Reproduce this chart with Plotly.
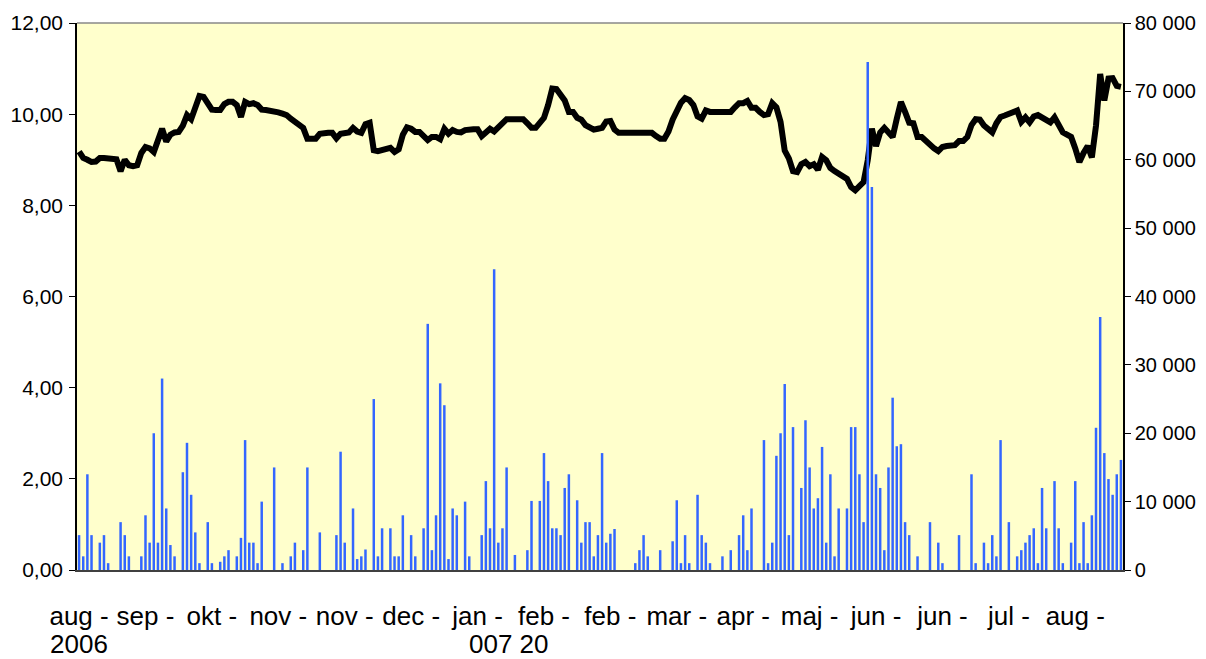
import plotly.graph_objects as go

# ---- data -------------------------------------------------------------
price = [
    9.18, 9.04, 9.00, 8.95, 8.96, 9.04, 9.04, 9.02, 9.01, 9.01,
    8.75, 9.00, 8.88, 8.86, 8.88, 9.15, 9.28, 9.25, 9.17, 9.40,
    9.68, 9.40, 9.55, 9.60, 9.61, 9.75, 9.98, 9.89, 10.15, 10.40,
    10.38, 10.25, 10.10, 10.09, 10.09, 10.22, 10.27, 10.27, 10.20, 9.94,
    10.27, 10.22, 10.24, 10.20, 10.10, 10.09, 10.08, 10.06, 10.04, 10.01,
    9.98, 9.90, 9.83, 9.79, 9.70, 9.46, 9.46, 9.46, 9.57, 9.59,
    9.59, 9.59, 9.47, 9.57, 9.59, 9.60, 9.70, 9.62, 9.59, 9.78,
    9.81, 9.21, 9.19, 9.22, 9.26, 9.26, 9.17, 9.23, 9.55, 9.71,
    9.68, 9.61, 9.61, 9.50, 9.43, 9.50, 9.50, 9.45, 9.68, 9.57,
    9.65, 9.61, 9.60, 9.65, 9.67, 9.67, 9.67, 9.52, 9.60, 9.68,
    9.62, 9.72, 9.82, 9.89, 9.89, 9.89, 9.89, 9.89, 9.80, 9.70,
    9.70, 9.80, 9.92, 10.20, 10.56, 10.55, 10.43, 10.30, 10.05, 10.05,
    9.92, 9.88, 9.76, 9.72, 9.66, 9.68, 9.70, 9.84, 9.85, 9.66,
    9.59, 9.59, 9.59, 9.59, 9.59, 9.59, 9.59, 9.59, 9.59, 9.52,
    9.46, 9.46, 9.62, 9.88, 10.06, 10.25, 10.35, 10.31, 10.20, 9.95,
    9.90, 10.08, 10.05, 10.05, 10.05, 10.05, 10.05, 10.05, 10.15, 10.24,
    10.24, 10.29, 10.14, 10.14, 10.05, 9.98, 10.00, 10.24, 10.15, 9.83,
    9.20, 9.03, 8.75, 8.73, 8.90, 8.95, 8.86, 8.90, 8.78, 9.06,
    8.99, 8.82, 8.75, 8.69, 8.66, 8.58, 8.40, 8.33, 8.42, 8.51,
    8.99, 9.68, 9.30, 9.60, 9.70, 9.58, 9.50, 9.90, 10.27, 10.05,
    9.81, 9.80, 9.50, 9.50, 9.42, 9.30, 9.25, 9.19, 9.28, 9.30,
    9.30, 9.32, 9.41, 9.41, 9.50, 9.76, 9.89, 9.88, 9.75, 9.66,
    9.60, 9.80, 9.94, 9.97, 10.00, 10.02, 10.08, 9.83, 9.93, 9.82,
    9.95, 9.98, 9.93, 9.86, 9.82, 9.93, 9.75, 9.60, 9.55, 9.50,
    9.25, 8.95, 9.15, 9.30, 9.05, 9.75, 10.88, 10.30, 10.78, 10.79,
    10.62, 10.60,
]

volume = [
    5100, 2000, 14000, 5100, 0, 4000, 5100, 1000, 0, 0,
    7000, 5100, 2000, 0, 0, 2000, 8000, 4000, 20000, 4000,
    28000, 9000, 3650, 2000, 0, 14300, 18600, 11000, 5500, 1000,
    0, 7000, 1000, 0, 1200, 2000, 2900, 0, 2000, 4700,
    19000, 4000, 4000, 1000, 10000, 0, 0, 15000, 0, 1000,
    0, 2000, 4000, 0, 2900, 15000, 0, 0, 5500, 0,
    0, 0, 5100, 17300, 4000, 0, 9000, 1600, 2000, 3000,
    0, 25000, 2000, 6100, 0, 6100, 2000, 2000, 8000, 0,
    5100, 2000, 0, 6100, 36000, 2900, 8000, 27300, 24100, 1600,
    9000, 8000, 0, 10000, 2000, 0, 0, 5100, 13000, 6100,
    44000, 4000, 6100, 15000, 0, 2200, 0, 0, 2900, 10100,
    0, 10100, 17100, 13000, 6100, 6100, 5100, 12000, 14000, 0,
    10200, 4000, 7000, 7000, 2000, 5100, 17100, 4000, 5300, 6000,
    0, 0, 0, 0, 1000, 2900, 5100, 2000, 0, 0,
    2900, 0, 0, 4200, 10200, 1000, 5100, 1000, 0, 11000,
    5100, 4000, 1000, 0, 0, 2000, 0, 2900, 0, 5100,
    8000, 2900, 9000, 0, 0, 19000, 1000, 4000, 16700, 20000,
    27200, 5100, 20900, 0, 12000, 21900, 15000, 9000, 10500, 18000,
    4000, 14000, 2000, 9000, 0, 9000, 20900, 20900, 14000, 7000,
    74300, 56000, 14000, 12000, 2900, 15000, 25200, 18100, 18400, 7000,
    5100, 0, 2000, 0, 0, 7000, 0, 4000, 1000, 0,
    0, 0, 5100, 0, 0, 14000, 1000, 0, 4000, 1000,
    5100, 2000, 19000, 0, 7000, 0, 2000, 2900, 4000, 5100,
    6100, 1000, 12000, 6100, 0, 13000, 6100, 1000, 0, 4000,
    13000, 1000, 7000, 1000, 8000, 20800, 37000, 17100, 13300, 11000,
    14000, 16100,
]

tick_pos = [0, 16, 32, 48, 64, 80, 96, 112, 128, 144, 160, 176, 192, 208, 224, 240]
tick_labels = ["aug -", "sep -", "okt -", "nov -", "nov -", "dec -", "jan -",
               "feb -", "feb -", "mar -", "apr -", "maj -", "jun -", "jun -",
               "jul -", "aug -"]
second_line = ["2006", "007 20"]   # visible remnants of the wrapped year labels

days = list(range(len(price)))

FONT = "Liberation Sans, Arial, sans-serif"

fig = go.Figure()
fig.add_trace(go.Scatter(x=days, y=price, mode="lines",
                         line=dict(color="black", width=6),
                         yaxis="y", showlegend=False))
fig.add_trace(go.Bar(x=days, y=volume, marker=dict(color="#3366FF", line=dict(width=0)),
                     yaxis="y2", showlegend=False))

# the page body has an 8px margin, so the figure is offset by (8, 8)
fig.update_layout(
    width=1198, height=651,
    margin=dict(l=69, r=83, t=15, b=89),
    paper_bgcolor="white",
    plot_bgcolor="#FFFFCC",
    separators=", ",
    bargap=0.4,
    font=dict(family=FONT, size=21, color="black"),
    xaxis=dict(
        range=[-0.5, len(price) - 0.5], automargin=False,
        tickmode="array", tickvals=tick_pos, ticktext=tick_labels,
        showgrid=False, zeroline=False,
        showline=True, linecolor="#404040", linewidth=2,
        ticks="outside", ticklen=22, tickcolor="rgba(0,0,0,0)",
        tickfont=dict(family=FONT, size=26, color="black"),
    ),
    yaxis=dict(
        range=[0, 12], dtick=2, tickformat=".2f", automargin=False,
        showgrid=False, zeroline=False,
        showline=True, linecolor="black", linewidth=1.5,
        ticks="outside", ticklen=6, tickcolor="black", ticklabelstandoff=2,
        tickfont=dict(family=FONT, size=21, color="black"),
    ),
    yaxis2=dict(
        range=[0, 80000], dtick=10000, tickformat=",d", automargin=False,
        overlaying="y", side="right",
        showgrid=False, zeroline=False,
        showline=True, linecolor="black", linewidth=1.5,
        ticks="outside", ticklen=6, tickcolor="black", ticklabelstandoff=0,
        tickfont=dict(family=FONT, size=20, color="black"),
    ),
    shapes=[dict(type="line", xref="paper", yref="paper", x0=0, x1=1, y0=1, y1=1,
                 line=dict(color="#888888", width=1.5))],
    annotations=[
        dict(text=second_line[0], xref="x", yref="paper", x=0, y=-0.135,
             xanchor="center", yanchor="middle", showarrow=False,
             font=dict(family=FONT, size=26, color="black")),
        dict(text=second_line[1], xref="paper", yref="paper", x=0.413, y=-0.135,
             xanchor="center", yanchor="middle", showarrow=False,
             font=dict(family=FONT, size=26, color="black")),
    ],
)

fig.write_html("out.html")
